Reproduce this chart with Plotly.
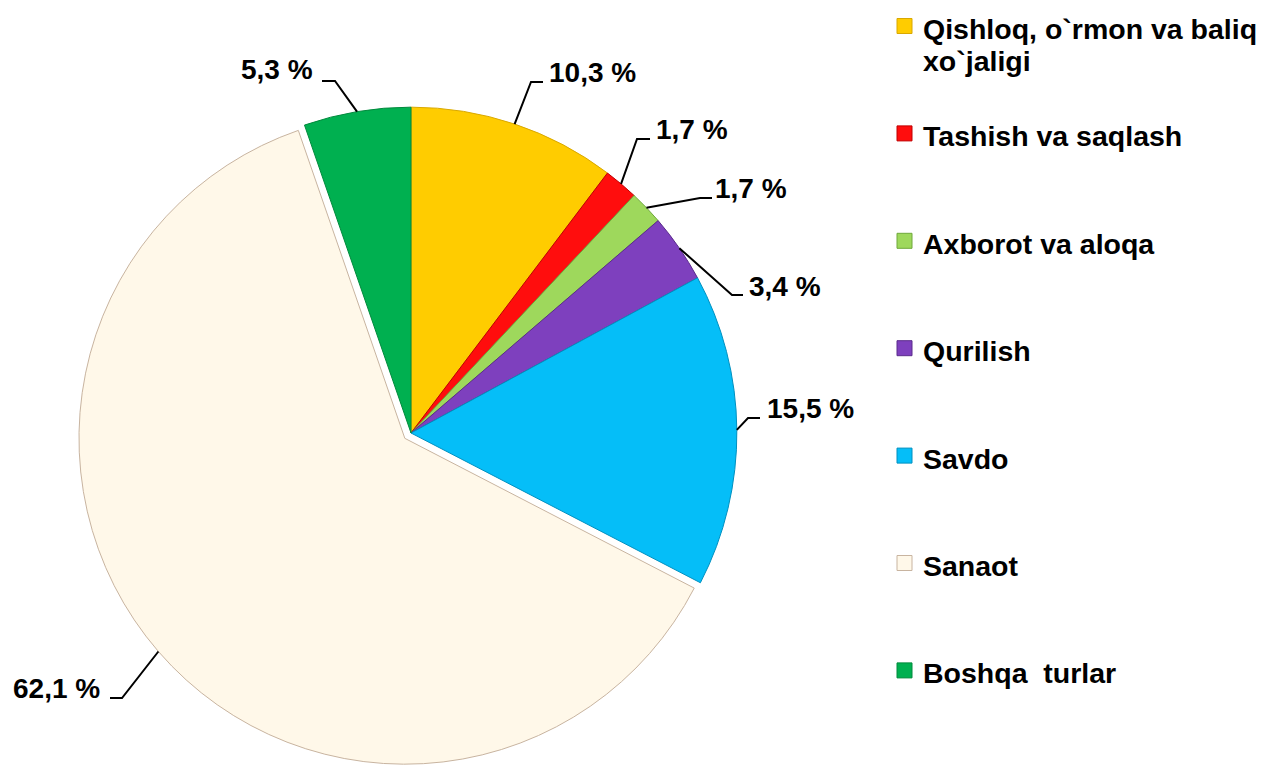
import math
import plotly.graph_objects as go

# ---- data ----
categories = [
    "Qishloq, o`rmon va baliq<br>xo`jaligi",
    "Tashish va saqlash",
    "Axborot va aloqa",
    "Qurilish",
    "Savdo",
    "Sanaot",
    "Boshqa  turlar",
]
values = [10.3, 1.7, 1.7, 3.4, 15.5, 62.1, 5.3]
colors = ["#FFCC00", "#FF0D0D", "#9ED85C", "#7E40BE", "#05BEF8", "#FFF8E9", "#00B050"]
edge_colors = ["#D9A800", "#C00000", "#6FA83A", "#5A2A8C", "#0090C0", "#C8B4A0", "#008A3C"]
pulls = [0, 0, 0, 0, 0, 0.025, 0]

# ---- layout geometry (page pixels) ----
W, H = 1271, 767
OFF = 8  # default page body margin
CX, CY, HALF = 411, 433, 334
MAXPULL = max(pulls)
R = HALF / (1 + MAXPULL)

def px(x):
    return (x - OFF) / W

def py(y):
    return 1 - (y - OFF) / H

# label layout: (text centre x, text centre y, elbow point, end point)
label_layout = [
    (592, 72, (531, 82), (543, 82)),
    (692, 129, (637, 139), (650, 139)),
    (751, 189, (700, 198), (712, 198)),
    (785, 286, (732, 295), (743, 295)),
    (810, 408, (748, 418), (760, 418)),
    (56, 688, (122, 698), (110, 698)),
    (277, 69, (335, 81), (322, 81)),
]

FONT = "Liberation Sans, Arial, sans-serif"

fig = go.Figure(go.Pie(
    labels=categories,
    values=values,
    sort=False,
    direction="clockwise",
    rotation=0,
    pull=pulls,
    textinfo="none",
    marker=dict(colors=colors, line=dict(color=edge_colors, width=1)),
    domain=dict(x=[px(CX - HALF), px(CX + HALF)], y=[py(CY + HALF), py(CY - HALF)]),
    showlegend=False,
    hoverinfo="label+percent",
))

shapes = []
annotations = []
total = sum(values)
cum = 0.0
for i, v in enumerate(values):
    mid = (cum + v / 2) / total * 2 * math.pi
    cum += v
    r = R * (1 + pulls[i])
    ax = CX + r * math.sin(mid)
    ay = CY - r * math.cos(mid)
    tx, ty, elbow, end = label_layout[i]
    shapes.append(dict(
        type="path", xref="paper", yref="paper",
        path=f"M {px(ax)},{py(ay)} L {px(elbow[0])},{py(elbow[1])} L {px(end[0])},{py(end[1])}",
        line=dict(color="black", width=2),
    ))
    txt = f"{v:.1f}".replace(".", ",") + " %"
    annotations.append(dict(
        x=px(tx), y=py(ty), xref="paper", yref="paper",
        text=f"<b>{txt}</b>", showarrow=False,
        xanchor="center", yanchor="middle",
        font=dict(family=FONT, size=28, color="black"),
    ))

# ---- manual legend ----
LEG_X0, LEG_Y0, LEG_STEP, SQ = 897, 26, 107.4, 15
for i, name in enumerate(categories):
    yc = LEG_Y0 + i * LEG_STEP
    shapes.append(dict(
        type="rect", xref="paper", yref="paper",
        x0=px(LEG_X0), x1=px(LEG_X0 + SQ), y0=py(yc + SQ / 2), y1=py(yc - SQ / 2),
        fillcolor=colors[i], line=dict(color=edge_colors[i], width=1),
    ))
    lines = name.split("<br>")
    for j, line in enumerate(lines):
        annotations.append(dict(
            x=px(LEG_X0 + 24), y=py(yc + 3 + j * 32), xref="paper", yref="paper",
            text=f"<b>{line}</b>", showarrow=False,
            xanchor="left", yanchor="middle",
            font=dict(family=FONT, size=28.5, color="black"),
        ))

fig.update_layout(
    width=W, height=H,
    margin=dict(l=0, r=0, t=0, b=0),
    paper_bgcolor="white",
    plot_bgcolor="white",
    shapes=shapes,
    annotations=annotations,
)

fig.write_html("out.html")
